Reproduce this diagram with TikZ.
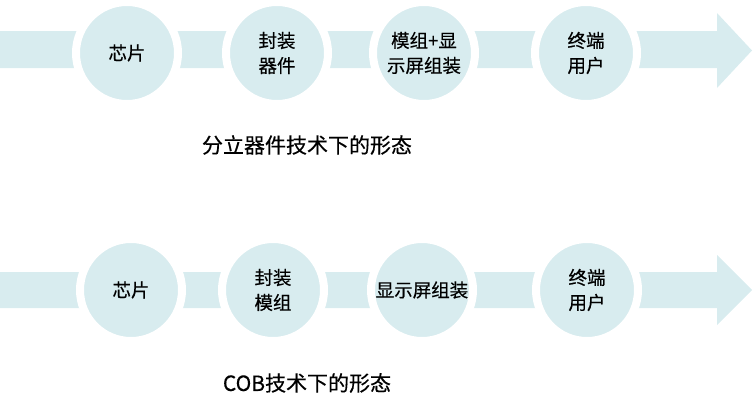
\documentclass[tikz,border=0pt]{standalone}
\usepackage{fontspec}
\setmainfont{Noto Sans CJK SC}[FakeBold=0.4]
\definecolor{stagefill}{RGB}{216,236,239}
\tikzset{
  stage/.style={circle,fill=stagefill,draw=white,line width=8pt,minimum size=102pt,inner sep=0pt,align=center,font=\fontsize{18.5}{25}\selectfont},
  band/.style={fill=stagefill},
  caption/.style={font=\fontsize{21}{24}\selectfont}
}
\begin{document}
\begin{tikzpicture}[x=1pt,y=-1pt]
    \useasboundingbox (0,0) rectangle (755,402);
    \fill[band] (0,31) -- (717,31) -- (717,13) -- (752,50.5) -- (717,88) -- (717,68) -- (0,68) -- cycle;
    \fill[band] (0,272) -- (717,272) -- (717,255) -- (752,290) -- (717,325) -- (717,308) -- (0,308) -- cycle;
    \node[stage] (chipa) at (127,53) {芯片}; \node[stage] (pkga) at (277,53) {封装\\器件};
    \node[stage] (moda) at (424,53) {模组+显\\示屏组装}; \node[stage] (usera) at (586,53) {终端\\用户};
    \node[caption] (capa) at (307,145) {分立器件技术下的形态};
    \node[stage] (chipb) at (131,290) {芯片}; \node[stage] (pkgb) at (273,290) {封装\\模组};
    \node[stage] (dispb) at (422,290) {显示屏组装}; \node[stage] (userb) at (587,290) {终端\\用户};
    \node[caption] (capb) at (307,383) {COB技术下的形态};
  \end{tikzpicture}
\end{document}
